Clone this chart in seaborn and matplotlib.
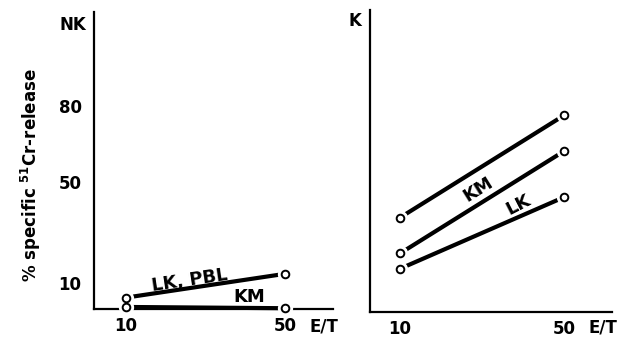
import numpy as np
import pandas as pd
import matplotlib
matplotlib.use('Agg')
import matplotlib.pyplot as plt
import seaborn as sns

# data
et_ratio = [10, 50]
nk_lk_pbl = [4.2, 13.6]
nk_km = [0.5, 0.0]
k_top = [36, 76]
k_km = [22, 62]
k_lk = [16, 44]
y_ticks = [10, 20, 30, 40, 50, 60, 70, 80]
y_labels = ['10', '', '', '', '50', '', '', '80']

sns.set_theme(style='white')
plt.rcParams['font.family'] = ['DejaVu Sans']
plt.rcParams['font.weight'] = 'bold'
plt.rcParams['text.color'] = 'black'
plt.rcParams['axes.labelcolor'] = 'black'
plt.rcParams['xtick.color'] = 'black'
plt.rcParams['ytick.color'] = 'black'
plt.rcParams['mathtext.fontset'] = 'custom'
plt.rcParams['mathtext.rm'] = 'DejaVu Sans:bold'
plt.rcParams['mathtext.it'] = 'DejaVu Sans:bold'
plt.rcParams['mathtext.bf'] = 'DejaVu Sans:bold'

fig = plt.figure(figsize=(6.44, 3.46), dpi=100)
ax1 = fig.add_axes([0.146, 0.107, 0.371, 0.858])
ax2 = fig.add_axes([0.5745, 0.098, 0.3758, 0.873])


def draw_series(ax, yvals):
    sns.lineplot(x=et_ratio, y=yvals, color='black', lw=3.0, ax=ax,
                 solid_capstyle='butt', clip_on=False, zorder=3)
    # white halo so the line stops short of the circle
    ax.plot(et_ratio, yvals, ls='none', marker='o', ms=10, mfc='white',
            mec='white', clip_on=False, zorder=4)
    ax.plot(et_ratio, yvals, ls='none', marker='o', ms=5.5, mfc='white',
            mec='black', mew=1.4, clip_on=False, zorder=5)


for ax in (ax1, ax2):
    for side in ('top', 'right'):
        ax.spines[side].set_visible(False)
    for side in ('left', 'bottom'):
        ax.spines[side].set_linewidth(1.6)
        ax.spines[side].set_color('black')
    ax.set_yticks(y_ticks)
    ax.set_xticks(et_ratio)
    ax.set_xticklabels(['10', '50'])
    ax.tick_params(axis='y', direction='out', length=3, width=1.6,
                   color='black', labelsize=12, pad=6)
    ax.tick_params(axis='x', length=0, labelsize=12, pad=6)
    ax.set_facecolor('white')

# NK panel
draw_series(ax1, nk_lk_pbl)
draw_series(ax1, nk_km)
ax1.set_xlim(1.95, 62.1)
ax1.set_ylim(-0.3, 117.2)
ax1.set_yticklabels(y_labels)
ax1.set_ylabel(r'% specific $^{51}$Cr-release', fontsize=12, fontweight='bold')
ax1.yaxis.set_label_coords(-0.213, 0.45)
ax1.text(26, 11, 'LK, PBL', fontsize=13, fontweight='bold', rotation=8.5,
         ha='center', va='center')
ax1.text(41, 4.3, 'KM', fontsize=13, fontweight='bold', ha='center', va='center')
ax1.text(-3.3, 112, 'NK', fontsize=12, fontweight='bold', ha='center', va='center')
ax1.text(56.3, -7.4, 'E/T', fontsize=12, fontweight='bold', ha='left', va='center',
         clip_on=False)

# K panel
draw_series(ax2, k_top)
draw_series(ax2, k_km)
draw_series(ax2, k_lk)
ax2.set_xlim(2.68, 61.7)
ax2.set_ylim(-0.95, 117.2)
ax2.set_yticklabels([''] * len(y_ticks))
ax2.text(29, 47, 'KM', fontsize=13, fontweight='bold', rotation=32,
         ha='center', va='center')
ax2.text(38.8, 41, 'LK', fontsize=13, fontweight='bold', rotation=27,
         ha='center', va='center')
ax2.text(-1.0, 113, 'K', fontsize=12, fontweight='bold', ha='center', va='center')
ax2.text(55.9, -6.8, 'E/T', fontsize=12, fontweight='bold', ha='left', va='center',
         clip_on=False)

fig.savefig('out.png', dpi=100, facecolor='white')
